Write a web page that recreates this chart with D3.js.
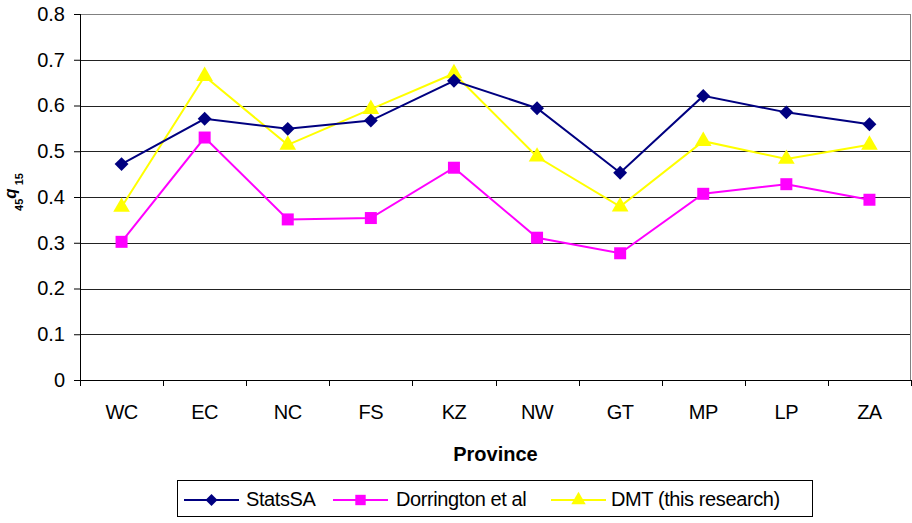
<!DOCTYPE html>
<html>
<head>
<script src="https://d3js.org/d3.v7.min.js"></script>
<style>
  body { margin: 0; background: #fff; }
  text { font-family: "Liberation Sans", Arial, sans-serif; }
</style>
</head>
<body>
<div id="chart"></div>
<script>
// data
var provinces = ["WC", "EC", "NC", "FS", "KZ", "NW", "GT", "MP", "LP", "ZA"];
var statsSA = [0.472, 0.571, 0.549, 0.567, 0.654, 0.594, 0.453, 0.621, 0.585, 0.559];
var dorrington = [0.302, 0.530, 0.351, 0.354, 0.464, 0.311, 0.277, 0.407, 0.428, 0.394];
var dmt = [0.378, 0.664, 0.514, 0.592, 0.670, 0.488, 0.379, 0.522, 0.483, 0.514];
var yTicks = [0, 0.1, 0.2, 0.3, 0.4, 0.5, 0.6, 0.7, 0.8];
var seriesNames = ["StatsSA", "Dorrington et al", "DMT (this research)"];

var W = 912, H = 523;
var margin = { top: 14, right: 1, bottom: 143, left: 80 };
var width = W - margin.left - margin.right,
    height = H - margin.top - margin.bottom;

var svg = d3.select("#chart").append("svg")
    .attr("width", W).attr("height", H);
var g = svg.append("g")
    .attr("transform", "translate(" + margin.left + "," + margin.top + ")");

var x = d3.scaleBand().domain(provinces).range([0, width]);
var y = d3.scaleLinear().domain([0, 0.8]).range([height, 0]);

// gridlines (top one is the grey plot border)
g.selectAll(".grid").data(yTicks.filter(function (d) { return d > 0; }))
  .enter().append("line")
    .attr("x1", 0).attr("x2", width)
    .attr("y1", function (d) { return Math.round(y(d)) + 0.5; })
    .attr("y2", function (d) { return Math.round(y(d)) + 0.5; })
    .attr("stroke", function (d) { return d === 0.8 ? "#808080" : "#222"; })
    .attr("stroke-width", 1);

// plot border right
g.append("line")
    .attr("x1", width - 0.5).attr("x2", width - 0.5)
    .attr("y1", 0).attr("y2", height)
    .attr("stroke", "#808080");

// y axis
var yAxis = g.append("g")
    .call(d3.axisLeft(y).tickValues(yTicks).tickSize(6).tickPadding(9)
      .tickFormat(function (d) { return d === 0 ? "0" : d3.format(".1f")(d); }));
yAxis.selectAll("text").style("font-size", "20px").attr("fill", "#000");
yAxis.selectAll("line").attr("stroke", "#000");
yAxis.select(".domain").attr("stroke", "#000").attr("d", "M0.5," + height + "V0");

// x axis (ticks between categories)
var xAxisG = g.append("g").attr("transform", "translate(0," + height + ")");
xAxisG.append("line").attr("x1", 0).attr("x2", width)
    .attr("y1", 0.5).attr("y2", 0.5).attr("stroke", "#000");
var boundaries = d3.range(provinces.length + 1).map(function (i) { return i * x.step(); });
xAxisG.selectAll(".xt").data(boundaries).enter().append("line")
    .attr("x1", function (d) { return Math.round(d) + 0.5; })
    .attr("x2", function (d) { return Math.round(d) + 0.5; })
    .attr("y1", 0).attr("y2", 6).attr("stroke", "#000");
xAxisG.selectAll(".xl").data(provinces).enter().append("text")
    .attr("x", function (d) { return x(d) + x.bandwidth() / 2; })
    .attr("y", 39)
    .attr("text-anchor", "middle")
    .style("font-size", "20px")
    .style("letter-spacing", "-0.5px")
    .text(function (d) { return d; });

// axis titles
svg.append("text")
    .attr("x", margin.left + width / 2).attr("y", 461)
    .attr("text-anchor", "middle")
    .style("font-size", "20px").style("font-weight", "bold")
    .text("Province");

var yt = svg.append("text")
    .attr("transform", "translate(16,192) rotate(-90)")
    .attr("text-anchor", "middle")
    .style("font-weight", "bold");
yt.append("tspan").style("font-size", "11px").attr("dy", 7).text("45");
yt.append("tspan").style("font-size", "17px").style("font-style", "italic").attr("dy", -7).text("q");
yt.append("tspan").style("font-size", "11px").attr("dy", 7).attr("dx", 3).text("15");

// series
var series = [
  { name: seriesNames[0], values: statsSA, color: "#000080", symbol: d3.symbolSquare, size: 96, rot: 45 },
  { name: seriesNames[1], values: dorrington, color: "#FF00FF", symbol: d3.symbolSquare, size: 144, rot: 0 },
  { name: seriesNames[2], values: dmt, color: "#FFFF00", symbol: d3.symbolTriangle, size: 120, rot: 0 }
];

var line = d3.line()
    .x(function (d, i) { return x(provinces[i]) + x.bandwidth() / 2; })
    .y(function (d) { return y(d); });

// draw in reverse order so StatsSA sits on top
series.slice().reverse().forEach(function (s) {
  g.append("path").datum(s.values)
    .attr("fill", "none").attr("stroke", s.color).attr("stroke-width", 2)
    .attr("d", line);
  g.selectAll(null).data(s.values).enter().append("path")
    .attr("transform", function (d, i) {
      return "translate(" + (x(provinces[i]) + x.bandwidth() / 2) + "," + y(d) + ") rotate(" + s.rot + ")";
    })
    .attr("d", d3.symbol().type(s.symbol).size(s.size))
    .attr("fill", s.color);
});

// legend
var leg = svg.append("g").attr("transform", "translate(177,480)");
leg.append("rect").attr("x", 0.5).attr("y", 0.5).attr("width", 635).attr("height", 36)
    .attr("fill", "#fff").attr("stroke", "#000");
var legX = [7, 156, 374];
var legTextX = [69, 219, 434];
series.forEach(function (s, i) {
  var lg = leg.append("g").attr("transform", "translate(" + legX[i] + ",20)");
  lg.append("line").attr("x1", 0).attr("x2", 55).attr("y1", 0).attr("y2", 0)
    .attr("stroke", s.color).attr("stroke-width", 2);
  lg.append("path").attr("transform", "translate(27.5,0) rotate(" + s.rot + ")")
    .attr("d", d3.symbol().type(s.symbol).size(s.size * 0.75)).attr("fill", s.color);
  leg.append("text").attr("x", legTextX[i]).attr("y", 26)
    .style("font-size", "20px").style("letter-spacing", "-0.4px").text(s.name);
});
</script>
</body>
</html>
